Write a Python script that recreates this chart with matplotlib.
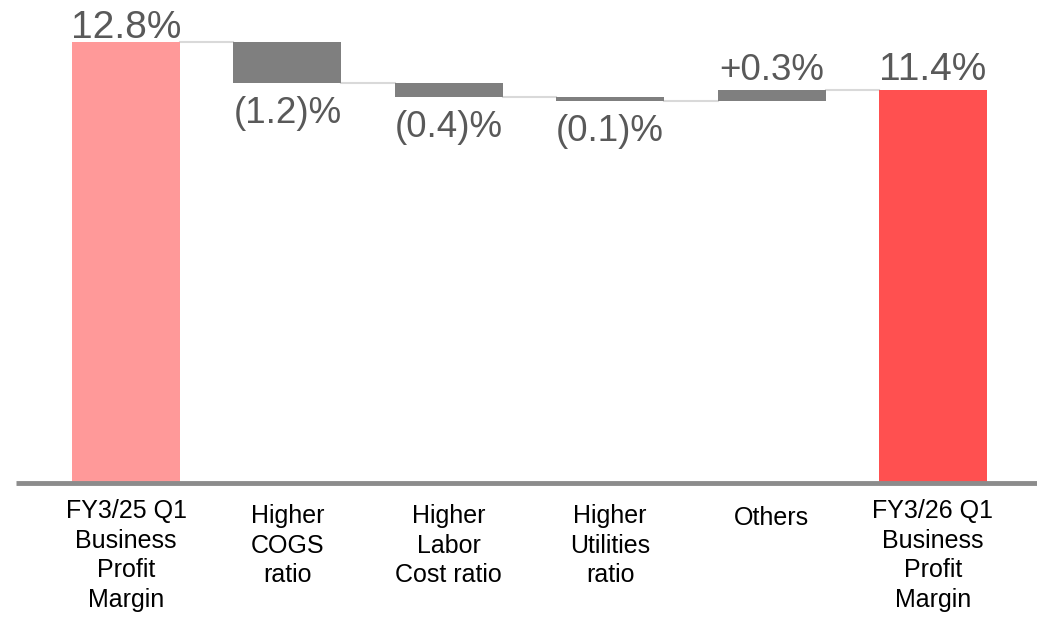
import numpy as np
import matplotlib
matplotlib.use("Agg")
import matplotlib.pyplot as plt
import matplotlib.transforms as mtransforms

plt.rcParams['font.family'] = ['Liberation Sans', 'DejaVu Sans']

# waterfall data (profit margin, %)
categories = ["FY3/25 Q1\nBusiness\nProfit\nMargin",
              "Higher\nCOGS\nratio",
              "Higher\nLabor\nCost ratio",
              "Higher\nUtilities\nratio",
              "Others",
              "FY3/26 Q1\nBusiness\nProfit\nMargin"]
changes = [12.8, -1.2, -0.4, -0.1, 0.3, 11.4]
is_total = [True, False, False, False, False, True]
value_labels = ["12.8%", "(1.2)%", "(0.4)%", "(0.1)%", "+0.3%", "11.4%"]

PX_PER_UNIT = 34.45


def px(n):
    # pixels -> data units on the y axis
    return n / PX_PER_UNIT


fig = plt.figure(figsize=(10.37, 6.19), dpi=100)
ax = fig.add_axes([0, 0, 1, 1])
ax.set_xlim(-0.781, 5.645)
ax.set_ylim(-136 / PX_PER_UNIT, 483 / PX_PER_UNIT)
ax.axis('off')

width = 0.669
x = np.arange(len(categories))

# compute bottoms / tops of each bar
bottoms, tops = [], []
running = 0.0
for c, tot in zip(changes, is_total):
    if tot:
        bottoms.append(0.0)
        tops.append(c)
        running = c
    else:
        new = running + c
        bottoms.append(min(running, new))
        tops.append(max(running, new))
        running = new

colors = ['#ff9999', '#7f7f7f', '#7f7f7f', '#7f7f7f', '#7f7f7f', '#ff5050']
heights = [t - b for b, t in zip(bottoms, tops)]
ax.bar(x, heights, width, bottom=bottoms, color=colors, zorder=3)

# connectors between bars
level = 0.0
for i in range(len(changes) - 1):
    level = changes[i] if is_total[i] else level + changes[i]
    ax.plot([x[i] + width / 2, x[i + 1] - width / 2], [level, level],
            color='#d9d9d9', lw=1.5, zorder=2)

# baseline
ax.plot([-0.68, 5.7], [0, 0], color='#8c8c8c', lw=3.5, zorder=4,
        solid_capstyle='butt')

# value labels
for i, (lab, c) in enumerate(zip(value_labels, changes)):
    if is_total[i]:
        pad = 4 if i == 0 else 10
        ax.text(x[i], tops[i] + px(pad), lab, ha='center', va='baseline',
                fontsize=28, color='#595959')
    elif c > 0:
        ax.text(x[i], tops[i] + px(10), lab, ha='center', va='baseline',
                fontsize=26.5, color='#595959')
    else:
        ax.text(x[i], bottoms[i] - px(13), lab, ha='center', va='top',
                fontsize=26.5, color='#595959')

# category labels
trans = mtransforms.blended_transform_factory(ax.transData, fig.transFigure)
label_top = [499, 504, 504, 504, 506, 499]
for xi, cat, top in zip(x, categories, label_top):
    ax.text(xi, 1 - top / 619, cat, transform=trans, ha='center', va='top',
            fontsize=18, color='black', linespacing=1.3)

fig.savefig('out.png', dpi=100)
